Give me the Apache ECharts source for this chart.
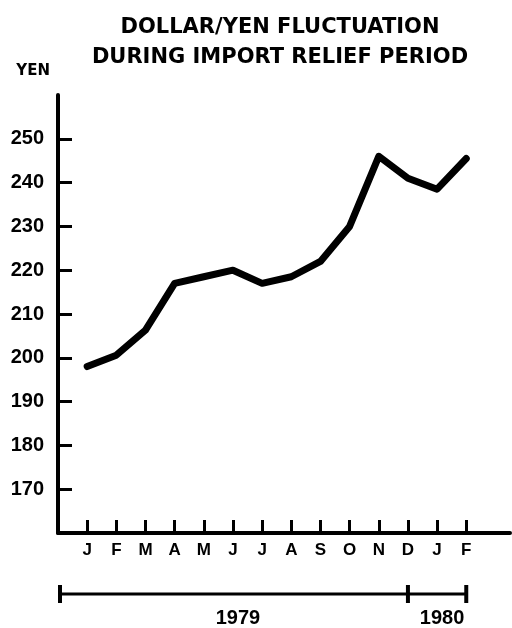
<!DOCTYPE html>
<html>
<head>
<meta charset="utf-8">
<script src="https://cdn.jsdelivr.net/npm/echarts@6/dist/echarts.min.js"></script>
<style>html,body{margin:0;padding:0;background:#fff}#c{width:512px;height:628px}</style>
</head>
<body>
<div id="c"></div>
<script>
const months = ['J','F','M','A','M','J','J','A','S','O','N','D','J','F'];
const yen = [198, 200.6, 206.3, 217, 218.5, 220, 217, 218.5, 222, 230, 246, 241, 238.5, 245.5];
const yTickValues = [170, 180, 190, 200, 210, 220, 230, 240, 250];
const years = ['1979', '1980'];
const yearBreaks = [-1, 11, 13];

const monthIdx = months.map((m, i) => i);
const chart = echarts.init(document.getElementById('c'), null, {renderer: 'canvas'});
const lab = 'Liberation Sans';
chart.setOption({
  animation: false,
  backgroundColor: '#fff',
  title: {
    text: 'DOLLAR/YEN FLUCTUATION\nDURING IMPORT RELIEF PERIOD',
    left: 275, top: 8, textAlign: 'center',
    textStyle: {fontFamily: 'DejaVu Sans', fontWeight: 'bold', fontSize: 21, lineHeight: 30, color: '#000'}
  },
  grid: {left: 58, right: 2, top: 95, bottom: 95},
  xAxis: {
    type: 'value', min: -1, max: 14.5, interval: 1,
    splitLine: {show: false},
    axisLine: {onZero: false, lineStyle: {color: '#000', width: 4}},
    axisTick: {show: true, inside: true, length: 13, customValues: monthIdx, lineStyle: {color: '#000', width: 3}},
    axisLabel: {customValues: monthIdx, margin: 9, color: '#000', fontFamily: lab, fontWeight: 'bold', fontSize: 17,
      formatter: v => months[Math.round(v)] || ''}
  },
  yAxis: {
    type: 'value', min: 160, max: 260, interval: 10,
    name: 'YEN', nameLocation: 'end', nameGap: 16,
    nameTextStyle: {align: 'right', padding: [0, 8, 0, 0], color: '#000', fontFamily: 'DejaVu Sans', fontWeight: 'bold', fontSize: 15},
    splitLine: {show: false},
    axisLine: {show: true, onZero: false, lineStyle: {color: '#000', width: 4}},
    axisTick: {show: true, inside: true, length: 14, customValues: yTickValues, lineStyle: {color: '#000', width: 3}},
    axisLabel: {customValues: yTickValues, margin: 14, color: '#000', fontFamily: lab, fontWeight: 'bold', fontSize: 20}
  },
  series: [{
    type: 'line',
    data: yen.map((v, i) => [i, v]),
    showSymbol: false, symbol: 'none',
    lineStyle: {color: '#000', width: 7, cap: 'round', join: 'round'}
  }]
});

const px = v => chart.convertToPixel({xAxisIndex: 0, yAxisIndex: 0}, [v, 160]);
const baseY = px(0)[1];
const barY = baseY + 61;
const xs = yearBreaks.map(b => px(b)[0]);
const els = [];
els.push({type: 'line', shape: {x1: xs[0] + 2, y1: barY, x2: xs[xs.length - 1], y2: barY}, style: {stroke: '#000', lineWidth: 3}});
xs.forEach((x, i) => els.push({type: 'line', shape: {x1: x + (i === 0 ? 2 : 0), y1: barY - 9, x2: x + (i === 0 ? 2 : 0), y2: barY + 9}, style: {stroke: '#000', lineWidth: 4}}));
years.forEach((y, i) => els.push({
  type: 'text', x: (xs[i] + xs[i + 1]) / 2 + 5, y: barY + 24,
  style: {text: y, fill: '#000', font: 'bold 20px "Liberation Sans"', align: 'center', verticalAlign: 'middle'}
}));
chart.setOption({graphic: els});
</script>
</body>
</html>
